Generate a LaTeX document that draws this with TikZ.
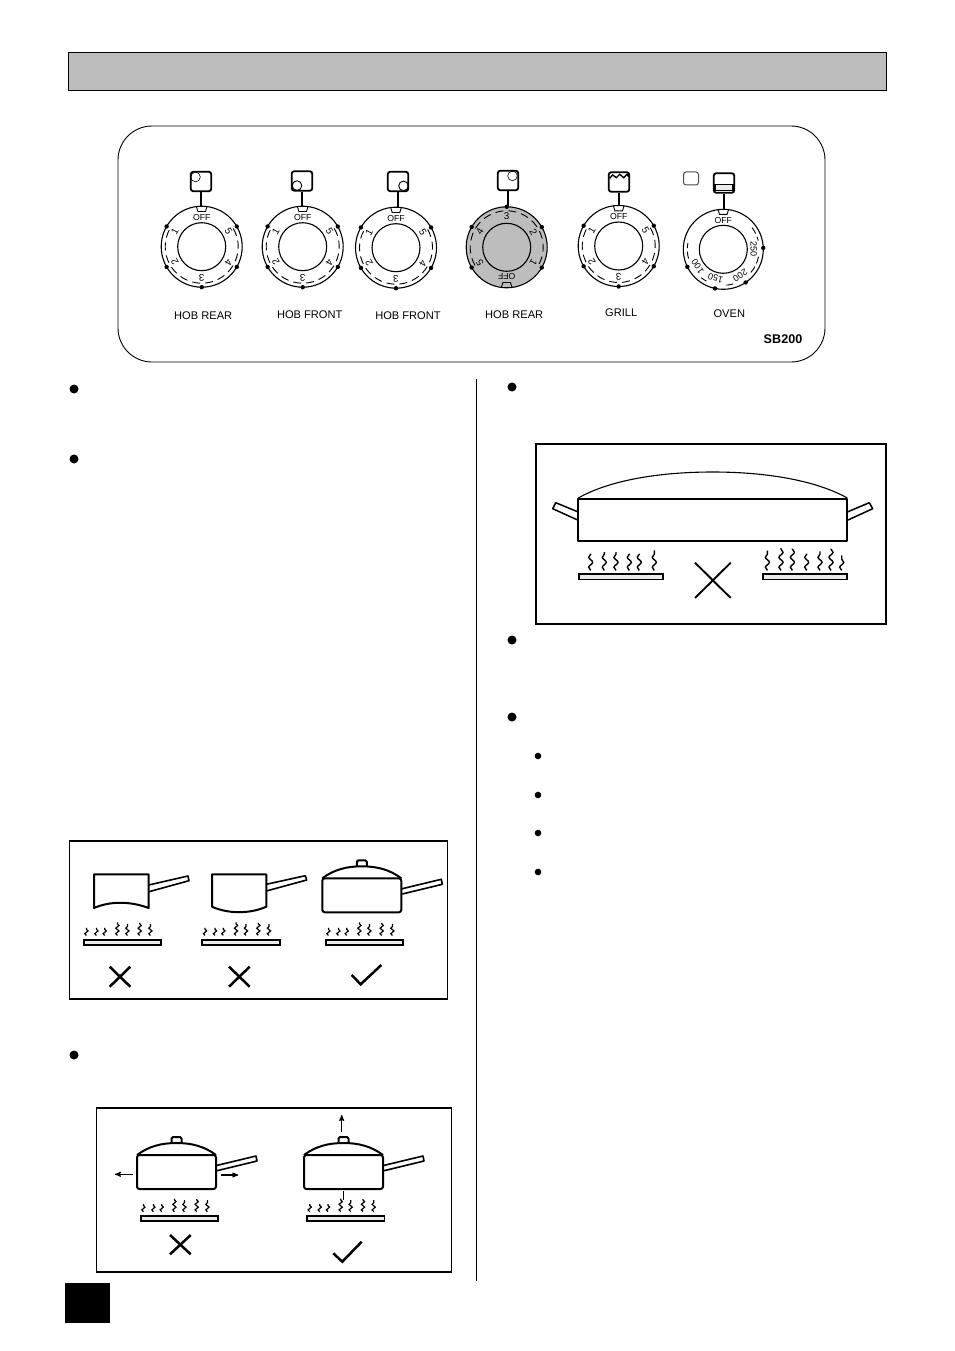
\documentclass[tikz,border=0pt]{standalone}
\usepackage{fontspec}
\setmainfont{Liberation Sans}
\usetikzlibrary{arrows}
\usetikzlibrary{positioning}
\usetikzlibrary{decorations.pathmorphing}

\definecolor{panelgrey}{HTML}{BDBDBD}

\tikzset{
  dial/.style={circle,draw,line width=1.1pt,minimum size=81pt,inner sep=0pt},
  dialtext/.style={font=\fontsize{9.8}{10}\selectfont,transform shape,inner sep=0pt},
  lamp/.style={rectangle,rounded corners=2.5pt,draw,line width=1.8pt,minimum width=20.5pt,minimum height=19.5pt,inner sep=0pt},
  dialname/.style={font=\fontsize{11.1}{12}\selectfont,inner sep=0pt},
  box/.style={draw,line width=1.1pt},
  pan/.style={draw,line width=2pt,line join=round},
  flame/.style={line width=1.2pt,decorate,decoration={snake,amplitude=1.6pt,segment length=5.5pt}},
  cross/.style={line width=2.5pt},
  bigdot/.style={circle,fill,minimum size=9pt,inner sep=0pt},
  smalldot/.style={circle,fill,minimum size=6.6pt,inner sep=0pt}
}

% name, centre, turn, node options
\newcommand{\hobdial}[4]{
  \node[dial,#4] (#1) at (#2) {};
  \begin{scope}[shift={(#1.center)},x=1pt,y=1pt,rotate=#3,every node/.style={dialtext}]
    \draw[line width=1.1pt] (0,0) circle (24);
    \draw[line width=0.9pt] (-5.3,40.2) -- (-3.8,35.2) -- (3.8,35.2) -- (5.3,40.2);
    \node[font=\fontsize{8.7}{9}\selectfont] at (0,29.5) {OFF};
    \draw[line width=0.9pt,dash pattern=on 8pt off 5pt] (30:36.5) arc[start angle=30,end angle=-210,radius=36.5pt];
    \foreach \c/\t in {60/5,120/4,180/3,240/2,300/1} {
      \fill ({90-\c}:40.5) circle (2.2);
      \node[rotate=-\c] at ({90-\c}:31) {\t};
    }
  \end{scope}
}
\newcommand{\ovendial}[2]{
  \node[dial,minimum size=80pt] (#1) at (#2) {};
  \begin{scope}[shift={(#1.center)},x=1pt,y=1pt,every node/.style={dialtext}]
    \draw[line width=1.1pt] (0,0) circle (24);
    \draw[line width=0.9pt] (-5.3,40) -- (-3.8,35) -- (3.8,35) -- (5.3,40);
    \node[font=\fontsize{8.7}{9}\selectfont] at (0,28.5) {OFF};
    \foreach \a/\b in {37/14,-12/-40,-74/-88,-118/-128,-165/-190}
      \draw[line width=0.9pt,dash pattern=on 7pt off 3.5pt] (\a:36) arc[start angle=\a,end angle=\b,radius=36pt];
    \foreach \c in {88,146,192,244} \fill ({90-\c}:40) circle (2.2);
    \foreach \c/\r/\t in {90/30.5/250,147/31/200,195/30/150,236/31/100} \node[font=\fontsize{9}{10}\selectfont,rotate=-\c] at ({90-\c}:\r) {\t};
  \end{scope}
}
\newcommand{\burner}[2]{
  \begin{scope}[shift={(#1,#2)}]
    \draw[line width=1.8pt,fill=black!8] (0,0) rectangle (77.5,5.2);
    \foreach \fx/\ftop in {2.7/-12,12.7/-12,21/-12,33.7/-17.5,43.7/-16,56/-17,66.7/-16}
      \draw[flame] (\fx,-4.4) -- (\fx,\ftop);
  \end{scope}
}
\newcommand{\lidpan}[2]{
  \begin{scope}[shift={(#1,#2)}]
    \draw[pan,rounded corners=2.5pt] (0,0) -- (0,34) -- (79,34) -- (79,0) -- cycle;
    \draw[pan] (0,0) .. controls (12,-9) and (25,-12) .. (39.5,-12) .. controls (54,-12) and (67,-9) .. (79,0);
    \draw[pan,rounded corners=1.5pt] (34.5,-12) -- (34.5,-18) -- (44.5,-18) -- (44.5,-12);
    \draw[pan,line width=1.6pt] (79.5,10.5) -- (119,1) -- (120,6) -- (80,15.7);
  \end{scope}
}

\begin{document}
\begin{tikzpicture}[x=1pt,y=-1pt,>=stealth',node distance=67pt]

  \path[use as bounding box,fill=white] (0,0) rectangle (954,1351);

  \node[draw,line width=0.9pt,fill=panelgrey,minimum width=818pt,minimum height=38pt,inner sep=0pt] (header) at (477,71) {};
  \node[fill=black,minimum width=45pt,minimum height=40pt,inner sep=0pt] (pageno) at (87.5,1303) {};
  \node[draw,line width=0.9pt,rounded corners=34pt,minimum width=707pt,minimum height=236pt,inner sep=0pt] (fascia) at (471.5,244) {};
  \draw[line width=0.9pt] (476.5,379) -- (476.5,1281);

  \hobdial{dial1}{201.7,246.7}{0}{}
  \hobdial{dial2}{302.7,246.7}{0}{}
  \hobdial{dial3}{396,247.7}{0}{}
  \hobdial{dial4}{506.7,247.3}{180}{fill=panelgrey}
  \hobdial{dial5}{618.7,246}{0}{}
  \ovendial{dial6}{723.3,249.3}

  \node[lamp] (lamp1) at (201,181.5) {};
  \node[lamp] (lamp2) at (302,181) {};
  \node[lamp] (lamp3) at (398,181.5) {};
  \node[lamp] (lamp4) at (508,180.5) {};
  \node[lamp] (lamp5) at (619,182) {};
  \node[lamp] (lamp6) at (724,183) {};
  \node[lamp,draw=black!70,line width=1pt,minimum width=15pt,minimum height=13pt] (lamp7) at (691,178.5) {};

  \draw[line width=0.6pt] (lamp1.center) ++(-5.5,-4.5) circle (4.8);
  \draw[line width=0.9pt] (lamp2.center) ++(-5,4.6) circle (4.8);
  \draw[line width=0.9pt] (lamp3.center) ++(5.5,4.4) circle (4.8);
  \draw[line width=0.6pt] (lamp4.center) ++(4.5,-4.6) circle (4.8);
  \draw[line width=1.4pt] ([shift={(-9.5,-3.7)}]lamp5.center) -- ++(3.2,-3.3) -- ++(3.6,2.7) -- ++(3.4,-3.4) -- ++(4,3.4) -- ++(3.3,-3.4) -- ++(1.6,2.4);
  \draw[line width=1.1pt,fill=black!8] ([shift={(-9,1.5)}]lamp6.center) rectangle ++(18,5.8);

  \draw[line width=1.3pt] (lamp1) -- (lamp1 |- dial1.north);
  \draw[line width=1.3pt] (lamp2) -- (lamp2 |- dial2.north);
  \draw[line width=1.3pt] (lamp3) -- (lamp3 |- dial3.north);
  \draw[line width=1.3pt] (lamp4) -- (lamp4 |- dial4.north);
  \draw[line width=1.3pt] (lamp5) -- (lamp5 |- dial5.north);
  \draw[line width=1.3pt] (lamp6) -- (lamp6 |- dial6.north);

  \node[dialname] (name1) [below of=dial1,xshift=1.5pt,yshift=-2pt] {HOB REAR};
  \node[dialname] (name2) [below of=dial2,xshift=7pt,yshift=-1pt] {HOB FRONT};
  \node[dialname] (name3) [below of=dial3,xshift=12pt,yshift=-1pt] {HOB FRONT};
  \node[dialname] (name4) [below of=dial4,xshift=7.5pt] {HOB REAR};
  \node[dialname] (name5) [below of=dial5,xshift=2.5pt] {GRILL};
  \node[dialname] (name6) [below of=dial6,xshift=6pt,yshift=3pt] {OVEN};
  \node[dialname,font=\fontsize{12.6}{13}\selectfont\bfseries] (model) at (783,339) {SB200};

  \foreach \nm/\pos in {b1/{74,389},b2/{74,459},b3/{74,1055},b4/{512,387},b5/{512,640},b6/{512,717}}
    \node[bigdot] (\nm) at (\pos) {};
  \foreach \nm/\pos in {c1/{538,756},c2/{538,795},c3/{538,833},c4/{538,872}}
    \node[smalldot] (\nm) at (\pos) {};

  % sizes of pan
  \node[box,minimum width=378pt,minimum height=158pt,inner sep=0pt] (sizes) at (258.5,920) {};
  \draw[pan] (148.7,874.3) -- (94,874.3) -- (94,908) .. controls (110,901) and (130,901) .. (148.7,908) -- cycle;
  \draw[pan,line width=1.6pt] (148.7,885) -- (188,876) -- (189,880.7) -- (149,891.7);
  \draw[pan] (212,874.3) -- (266.3,874.3) -- (266.3,906.7) .. controls (250,914) and (228,914) .. (212,906.7) -- cycle;
  \draw[pan,line width=1.6pt] (266.3,884.3) -- (305.3,875.7) -- (306.7,880) -- (266.3,891);
  \lidpan{322.3}{878.3}
  \burner{83.7}{939.8}
  \burner{202.3}{939.8}
  \burner{325.7}{939.8}
  \draw[cross] (109.7,966.7) -- (130.3,986.7) (130.3,966.7) -- (109.7,986.7);
  \draw[cross] (229,966.7) -- (249.7,986.7) (249.7,966.7) -- (229,986.7);
  \draw[cross] (351.7,975) -- (360.7,984.3) -- (381.3,965);

  % steam from lid
  \node[box,minimum width=355pt,minimum height=164pt,inner sep=0pt] (lids) at (274,1190) {};
  \lidpan{137}{1155}
  \lidpan{304}{1155}
  \burner{140.7}{1216}
  \burner{307}{1216}
  \draw[->,line width=1.1pt] (132.7,1174.3) -- (115,1174.3);
  \draw[->,line width=1.1pt] (221,1175) -- (238.3,1175);
  \draw[->,line width=1.1pt] (341.7,1132.3) -- (341.7,1115);
  \draw[line width=0.9pt] (343.3,1191) -- (343.3,1200);
  \draw[cross] (170,1235) -- (190.7,1254.3) (190.7,1235) -- (170,1254.3);
  \draw[cross] (333.3,1253.3) -- (342.3,1261.7) -- (361.7,1241.7);

  % fish kettle
  \node[box,minimum width=350pt,minimum height=180pt,inner sep=0pt] (wide) at (711,534) {};
  \draw[pan,line width=1.8pt] (578.3,498.7) rectangle (847.3,541);
  \draw[line width=1.1pt] (578.3,498) .. controls (610,480) and (660,472) .. (712.8,472) .. controls (765,472) and (815,480) .. (847.3,498);
  \draw[pan,line width=1.5pt] (578.3,512) -- (555.7,502.7) -- (552.7,508.7) -- (578.3,520.3);
  \draw[pan,line width=1.5pt] (847.3,512) -- (869.3,502.7) -- (872.7,508.7) -- (847.3,520.3);
  \draw[line width=1.8pt,fill=black!8] (579,574) rectangle (663.3,579.5);
  \draw[line width=1.8pt,fill=black!8] (762.7,574) rectangle (847.3,579.5);
  \begin{scope}[shift={(579,573.7)}]
    \foreach \fx/\ftop in {11.7/-20,25.3/-21.7,37/-21.7,50.3/-20,60.3/-20,75.3/-23.3}
      \draw[flame,line width=1.4pt,decoration={amplitude=2pt,segment length=10pt}] (\fx,-3.3) -- (\fx,\ftop);
  \end{scope}
  \begin{scope}[shift={(762.7,573.7)}]
    \foreach \fx/\ftop in {4.7/-23,18.3/-25.7,29.7/-25,44/-20,57.3/-22.3,68.3/-25,79/-18.3}
      \draw[flame,line width=1.4pt,decoration={amplitude=2pt,segment length=10pt}] (\fx,-3.3) -- (\fx,\ftop);
  \end{scope}
  \draw[line width=1.9pt] (695,562.7) -- (730.7,598) (730.7,562.7) -- (695,598);

\end{tikzpicture}
\end{document}
